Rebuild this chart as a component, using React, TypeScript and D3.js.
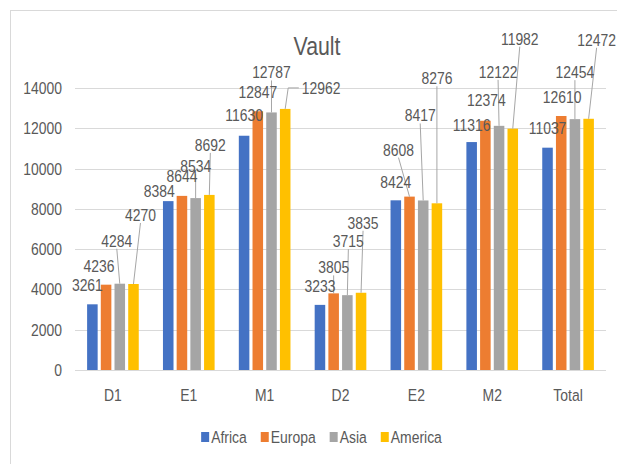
import * as d3 from 'd3';
import React, { useRef, useEffect } from 'react';

const categories = ['D1', 'E1', 'M1', 'D2', 'E2', 'M2', 'Total'];
const series = ['Africa', 'Europa', 'Asia', 'America'];
const africa = [3261, 8384, 11630, 3233, 8424, 11316, 11037];
const europa = [4236, 8644, 12847, 3805, 8608, 12374, 12610];
const asia = [4284, 8534, 12787, 3715, 8417, 12122, 12454];
const america = [4270, 8692, 12962, 3835, 8276, 11982, 12472];
const yTicks = [0, 2000, 4000, 6000, 8000, 10000, 12000, 14000];
const colors = ['#4472C4', '#ED7D31', '#A5A5A5', '#FFC000'];

// labels were dragged by hand in the original, offsets from the bar top
const labelShift = [
  [[-5, -19], [-7, -19], [-3, -43], [7, -69]],
  [[-9, -10], [0, -20], [0, -32], [1, -50]],
  [[0, -21], [0, -19], [0, -40], [36, -21]],
  [[0, -19], [0, -26], [1, -54], [2, -70]],
  [[0, -18], [-11, -47], [-3, -85], [0, -125]],
  [[0, -17], [1, -21], [-1, -54], [7, -90]],
  [[0, -20], [1, -19], [0, -47], [8, -79]],
];

const font = "'Liberation Sans', Arial, sans-serif";
const textColor = '#595959';
const narrow = 0.82; // squeeze Liberation Sans to look like a narrow face

// text squeezed horizontally, centred on y
const addText = (parent, x, y, str, size, anchor) => {
  return parent.append('text')
    .attr('transform', `translate(${x},${y}) scale(${narrow},1)`)
    .attr('dy', '0.35em')
    .attr('text-anchor', anchor)
    .attr('font-family', font)
    .attr('font-size', size)
    .attr('fill', textColor)
    .text(str);
};

function App() {
  const ref = useRef(null);

  useEffect(() => {
    const svg = d3.select(ref.current);
    svg.selectAll('*').remove();

    const values = [africa, europa, asia, america];

    const x0 = d3.scaleBand().domain(categories).range([75, 606]);
    const bw = x0.bandwidth();
    const x1 = d3.scaleBand().domain(series)
      .range([bw / 2 - 27.4, bw / 2 + 27.4])
      .paddingInner(0.23)
      .paddingOuter(0.115);
    const y = d3.scaleLinear().domain([0, 14000]).range([370, 88]);

    // chart border (cut by the screenshot on the right and bottom)
    svg.append('rect')
      .attr('x', 10.5).attr('y', 10.5)
      .attr('width', 700).attr('height', 600)
      .attr('fill', 'white')
      .attr('stroke', '#d9d9d9');

    addText(svg, 317, 46, 'Vault', 26, 'middle');

    // gridlines
    svg.append('g').selectAll('line')
      .data(yTicks)
      .enter().append('line')
      .attr('x1', 75).attr('x2', 606)
      .attr('y1', d => Math.round(y(d)) + 0.5)
      .attr('y2', d => Math.round(y(d)) + 0.5)
      .attr('stroke', '#d9d9d9')
      .attr('stroke-width', 1);

    const axis = svg.append('g');
    yTicks.forEach(d => addText(axis, 62, y(d), d, 17, 'end'));

    const cats = svg.append('g');
    categories.forEach(c => addText(cats, x0(c) + bw / 2, 395, c, 17, 'middle'));

    const cells = [];
    categories.forEach((c, i) => {
      series.forEach((s, j) => {
        cells.push({ c, s, i, j, v: values[j][i] });
      });
    });

    svg.append('g').selectAll('rect')
      .data(cells)
      .enter().append('rect')
      .attr('x', d => x0(d.c) + x1(d.s))
      .attr('y', d => y(d.v))
      .attr('width', x1.bandwidth())
      .attr('height', d => y(0) - y(d.v))
      .attr('fill', d => colors[d.j]);

    // leader lines
    const leaders = svg.append('g');
    const labels = svg.append('g');

    cells.forEach(d => {
      const bx = x0(d.c) + x1(d.s) + x1.bandwidth() / 2;
      const by = y(d.v);
      const [dx, dy] = labelShift[d.i][d.j];
      const lx = bx + dx;
      const ly = by + dy;

      const t = addText(labels, lx, ly, d.v, 17, 'middle');

      if (dx > 20) {
        const w = t.node().getComputedTextLength() * narrow;
        const pts = [[lx - w / 2 - 3, ly], [bx + 3, ly], [bx, by]];
        leaders.append('path')
          .attr('d', d3.line()(pts))
          .attr('fill', 'none')
          .attr('stroke', '#a6a6a6')
          .attr('stroke-width', 1);
      } else if (dy < -24) {
        leaders.append('line')
          .attr('x1', lx).attr('y1', ly + 8)
          .attr('x2', bx).attr('y2', by)
          .attr('stroke', '#a6a6a6')
          .attr('stroke-width', 1);
      }
    });

    // legend, centred under the plot
    const legend = svg.append('g');
    let cx = 0;
    series.forEach((s, j) => {
      const g = legend.append('g').attr('transform', `translate(${cx},0)`);
      g.append('rect')
        .attr('x', 0).attr('y', -5)
        .attr('width', 8).attr('height', 10)
        .attr('fill', colors[j]);
      const t = addText(g, 10, 0, s, 17, 'start');
      cx += 10 + t.node().getComputedTextLength() * narrow + 14;
    });
    const total = cx - 14;
    legend.attr('transform', `translate(${321.5 - total / 2},437)`);
  }, []);

  return (
    <svg ref={ref} width={617} height={464}
      style={{ position: 'absolute', left: 0, top: 0 }}>
    </svg>
  );
}

export default App;
